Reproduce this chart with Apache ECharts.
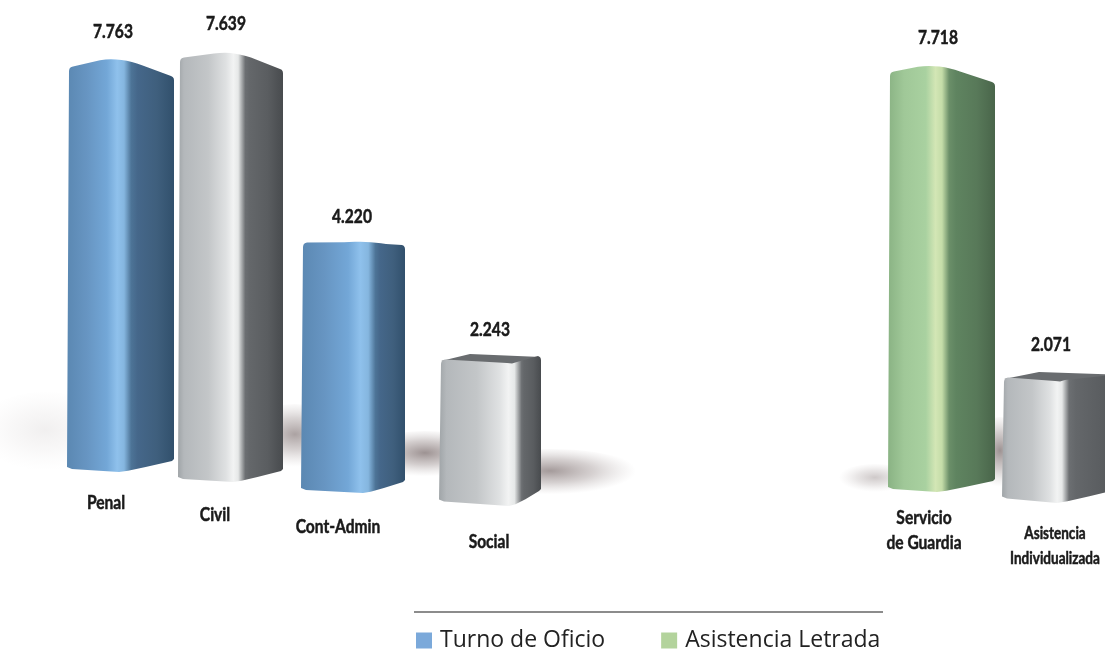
<!DOCTYPE html>
<html><head><meta charset="utf-8">
<style>html,body{margin:0;padding:0;background:#fff}#c{width:1105px;height:652px}</style>
<script src="https://cdn.jsdelivr.net/npm/echarts@6/dist/echarts.min.js"></script>
</head><body><div id="c"></div>
<script>
// ---------- data ----------
const categories = ['Penal', 'Civil', 'Cont-Admin', 'Social', 'Servicio\nde Guardia', 'Asistencia\nIndividualizada'];
const values = [7763, 7639, 4220, 2243, 7718, 2071];
const seriesNames = ['Turno de Oficio', 'Asistencia Letrada'];
const seriesOfBar = [0, 0, 0, 0, 1, 1];
// ---------- picture's perspective (each column stands at its own depth) ----------
const PX = 0.05;                                 // y axis: 1 unit = 0.05 px
const tones = ['blue', 'silver', 'blue', 'silver', 'green', 'silver'];
const leftEdge = [69, 180, 303, 441, 890, 1004];
const cornerAt = [122, 236, 366, 512, 940, 1060];
const rightEdge = [174, 283, 405, 541, 995, 1125];
const floorPx = [180, 170, 159, 146, 160, 149];   // height above page bottom
const stretch = [1.0666, 1.126, 1.19, 1.275, 1.1065, 1.178];
const shoulderL = [9, 6, 1, 3, 7, 3];
const shoulderR = [19, 18, 4, 6, 18, 6];
const valueLabelPx = [[113, 32], [226, 24], [352, 217], [490, 330], [938, 38], [1051, 345]];
const nameLabelPx = [[106, 503], [215, 515], [338, 527], [489, 542], [924, 530], [1055, 546]];
const nameLabelSize = [19, 19, 19, 19, 19, 16.5];
const shadows = [ // cx, cy, rx, ry, strength
  [45, 437, 75, 45, 0.1], [295, 440, 55, 36, 0.6], [425, 457, 68, 26, 0.7],
  [550, 475, 95, 26, 0.65], [875, 480, 40, 16, 0.35], [1000, 457, 30, 40, 0.7]
];

const palette = {
  blue: [[['#5b88b2', 0], ['#6795c2', .35], ['#73a7d7', .7], ['#8fc1ec', .88], ['#85b6df', 1]],
         [['#4d7497', 0], ['#45678a', .15], ['#3f5f7d', .6], ['#31506c', 1]]],
  silver: [[['#a0a5a8', 0], ['#b4b8bb', .1], ['#c3c6c8', .5], ['#dfe1e2', .8], ['#f2f3f3', .92], ['#e6e8e8', 1]],
           [['#6c6f72', 0], ['#64676a', .12], ['#5a5d60', .6], ['#484b4e', 1]]],
  green: [[['#8ab384', 0], ['#a0c898', .3], ['#a9d1a0', .7], ['#d3e6b5', .88], ['#c4dca8', 1]],
          [['#6b8f69', 0], ['#5f8460', .15], ['#587959', .6], ['#49654a', 1]]]
};

function curve(p0, c, p1, n) {
  const out = [];
  for (let i = 0; i <= n; i++) {
    const t = i / n, u = 1 - t;
    out.push([u*u*p0[0] + 2*u*t*c[0] + t*t*p1[0], u*u*p0[1] + 2*u*t*c[1] + t*t*p1[1]]);
  }
  return out;
}

const barRows = values.map((v, i) => [i, v]);
const FONT = '"Lato", "Open Sans", sans-serif';

function renderBar(params, api) {
  const i = api.value(0), v = api.value(1);
  const base = api.coord([cornerAt[i], floorPx[i] / PX]);
  const top = api.coord([cornerAt[i], (floorPx[i] / PX) + v * stretch[i]]);
  const xL = api.coord([leftEdge[i], 0])[0], xC = base[0], xR = api.coord([rightEdge[i], 0])[0];
  const yB = base[1], yT = top[1];
  const short = v < 3000;
  const tl = shoulderL[i], tr = shoulderR[i];
  const leftY = short ? yT - tl : yT + tl;
  const rightY = short ? yT - tr : yT + tr;
  const bl = short ? 4.5 : 3, br = short ? 16 : 12;
  const slopeBack = (rightY - yT) / (xR - xC);
  const pts = [
    ...curve([xL, leftY + 4], [xL, leftY], [xL + 4, leftY - 0.5], 3),
    ...(short
      ? [[xC - 5, yT], [xC, yT + 0.5], [xC + 5, yT - 1]]
      : curve([xC - 22, yT + (leftY - yT) * 0.25], [xC, yT - 1], [xC + 20, yT + 20 * slopeBack], 8)),
    ...curve([xR - 3, rightY - 1], [xR, rightY], [xR, rightY + 3], 3),
    [xR, yB - br - 1],
    ...curve([xR - 2, yB - br + 1], [xC + 4, yB], [xC - 3, yB], 3),
    [xL + 3, yB - bl],
    [xL - 2, yB - bl - 2]
  ];
  const f = (xC + 3 - xL) / (xR - xL);
  const blend = 7 / (xR - xL);
  const tone = palette[tones[i]];
  const stops = tone[0].map(s => ({ offset: s[1] * f, color: s[0] }))
    .concat(tone[1].map(s => ({ offset: Math.min(1, f + blend + s[1] * (1 - f - blend)), color: s[0] })));
  const children = [];
  if (short) {
    const capBack = xL + (xR - xL) * 0.29;
    children.push({ type: 'polygon', shape: { points: [
      [xL, leftY + 1], [capBack, yT - 9], [xR, rightY], [xC + 2, yT + 3]
    ] }, style: { fill: '#696c6f' } });
  }
  children.push({ type: 'polygon', shape: { points: pts }, style: {
    fill: new echarts.graphic.LinearGradient(0, 0, 1, 0, stops) } });
  const vl = valueLabelPx[i], nl = nameLabelPx[i];
  const vp = api.coord([vl[0], (652 - vl[1]) / PX]), np = api.coord([nl[0], (652 - nl[1]) / PX]);
  children.push({ type: 'text', x: vp[0], y: vp[1], scaleX: 0.82, style: {
    text: String(v).replace(/(\d)(\d{3})$/, '$1.$2'), fill: '#1a1a1a', stroke: '#1a1a1a', lineWidth: 0.5,
    align: 'center', verticalAlign: 'middle', font: 'bold 19px ' + FONT } });
  children.push({ type: 'text', x: np[0], y: np[1], scaleX: 0.82, style: {
    text: categories[i], fill: '#1a1a1a', stroke: '#1a1a1a', lineWidth: 0.5,
    align: 'center', verticalAlign: 'middle', lineHeight: 25,
    font: 'bold ' + nameLabelSize[i] + 'px ' + FONT } });
  return { type: 'group', children };
}

function renderShadow(params, api) {
  const s = shadows[params.dataIndex];
  const p = api.coord([s[0], (652 - s[1]) / PX]);
  return { type: 'circle', x: p[0], y: p[1], scaleX: s[2] / 50, scaleY: s[3] / 50,
    shape: { cx: 0, cy: 0, r: 50 }, style: {
      fill: new echarts.graphic.RadialGradient(0.5, 0.42, 0.58, [
        { offset: 0, color: 'rgba(115,100,100,' + s[4] + ')' },
        { offset: 0.4, color: 'rgba(130,115,115,' + (s[4] * 0.5) + ')' },
        { offset: 0.78, color: 'rgba(170,160,160,0)' },
        { offset: 1, color: 'rgba(170,160,160,0)' }]) } };
}

const seriesColors = ['#7ba9da', '#b3d39c'];
const chart = echarts.init(document.getElementById('c'), null, { renderer: 'canvas' });
chart.setOption({
  animation: false,
  backgroundColor: '#ffffff',
  grid: { left: 0, right: 0, top: 0, bottom: 0 },
  xAxis: { type: 'value', min: 0, max: 1105, show: false },
  yAxis: { type: 'value', min: 0, max: 652 / PX, show: false },
  legend: {
    left: 416, top: 629, padding: 0, itemWidth: 16, itemHeight: 16, itemGap: 56, icon: 'rect',
    selectedMode: false,
    textStyle: { fontFamily: '"Open Sans", sans-serif', fontSize: 23, color: '#222', padding: [0, 0, 0, 3] },
    data: seriesNames
  },
  graphic: [{ type: 'line', shape: { x1: 414, y1: 612, x2: 883, y2: 612 }, style: { stroke: '#666', lineWidth: 1.5 } }],
  series: [
    { type: 'custom', name: 'floor', silent: true, z: 1, renderItem: renderShadow, data: shadows.map((s, i) => [i]), clip: false },
    { type: 'custom', name: seriesNames[0], z: 2, renderItem: renderBar, itemStyle: { color: seriesColors[0] }, clip: false,
      data: barRows.filter((d, i) => seriesOfBar[i] === 0) },
    { type: 'custom', name: seriesNames[1], z: 2, renderItem: renderBar, itemStyle: { color: seriesColors[1] }, clip: false,
      data: barRows.filter((d, i) => seriesOfBar[i] === 1) }
  ]
});
</script></body></html>
